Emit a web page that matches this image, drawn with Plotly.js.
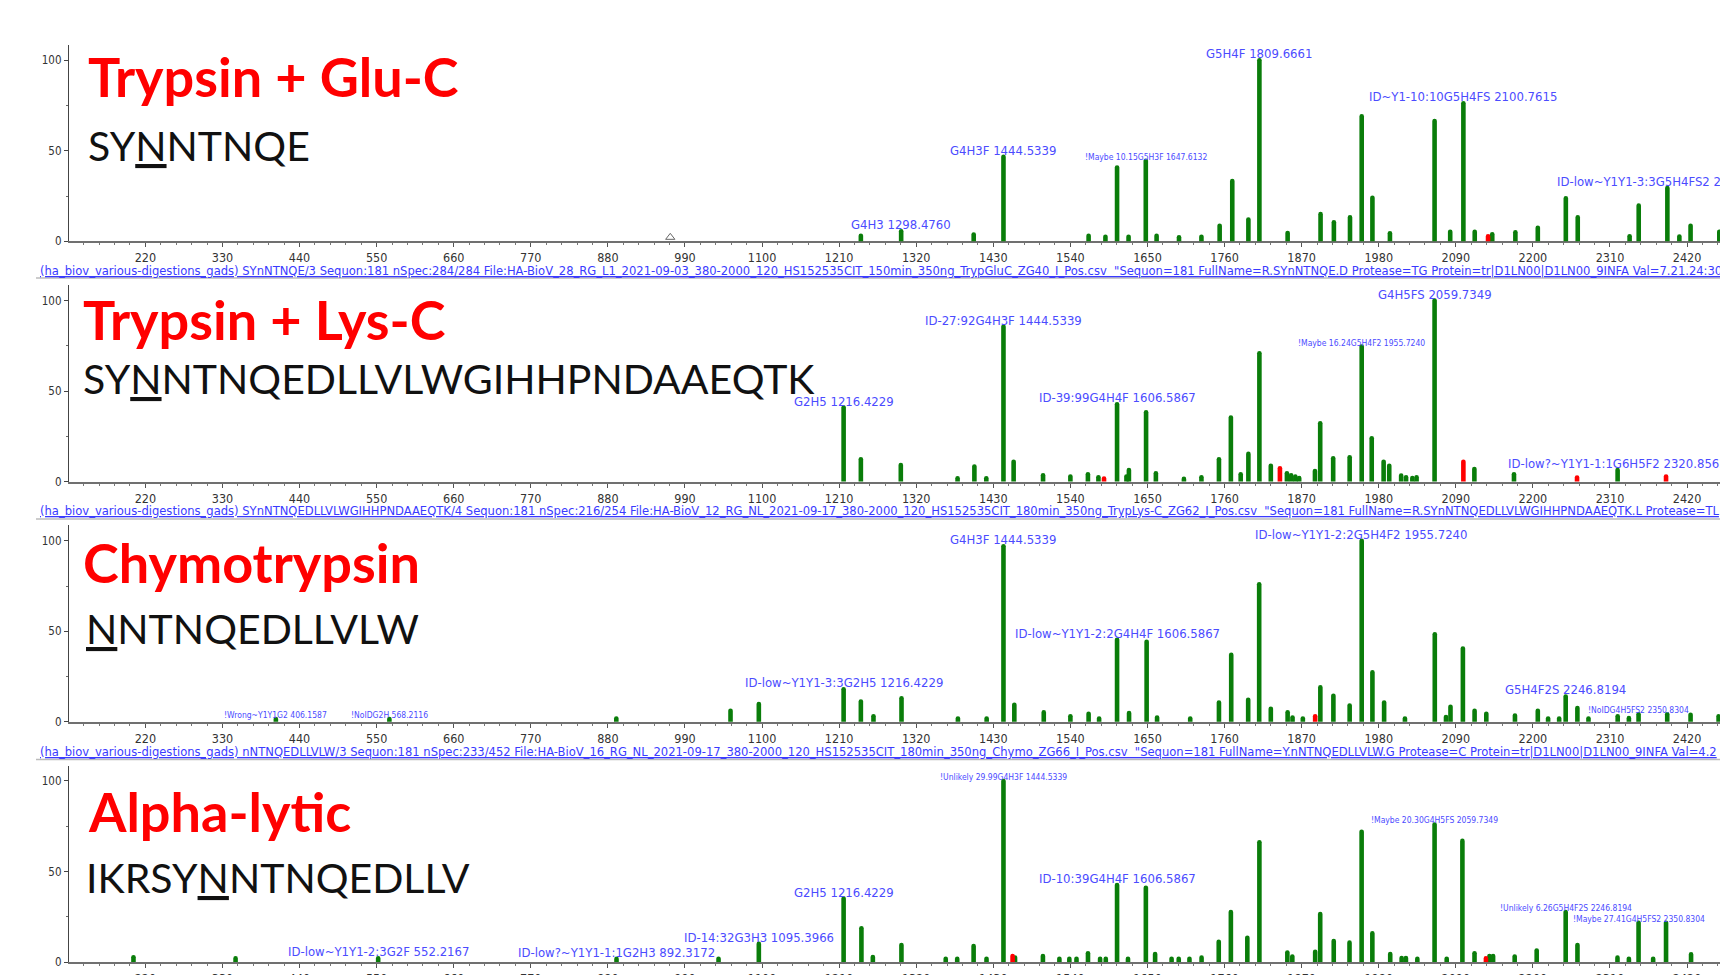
<!DOCTYPE html>
<html>
<head>
<meta charset="utf-8">
<script src="https://cdn.plot.ly/plotly-3.0.1.min.js"></script>
<style>
html,body{margin:0;padding:0;background:#fff;}
#chart{width:1720px;height:975px;}
.scatterlayer path.js-line{stroke-linecap:round;}
</style>
</head>
<body>
<div id="chart"></div>
<script>
// ---------------- DATA ----------------
const enzymes = ['Trypsin + Glu-C', 'Trypsin + Lys-C', 'Chymotrypsin', 'Alpha-lytic'];
const sequences = ['SYNNTNQE', 'SYNNTNQEDLLVLWGIHHPNDAAEQTK', 'NNTNQEDLLVLW', 'IKRSYNNTNQEDLLV'];
const siteIndex = [2, 2, 0, 5];

const infoLines = [
  '(ha_biov_various-digestions_gads) SYnNTNQE/3 Sequon:181 nSpec:284/284 File:HA-BioV_28_RG_L1_2021-09-03_380-2000_120_HS152535CIT_150min_350ng_TrypGluC_ZG40_I_Pos.csv  "Sequon=181 FullName=R.SYnNTNQE.D Protease=TG Protein=tr|D1LN00|D1LN00_9INFA Val=7.21.24:30',
  '(ha_biov_various-digestions_gads) SYnNTNQEDLLVLWGIHHPNDAAEQTK/4 Sequon:181 nSpec:216/254 File:HA-BioV_12_RG_NL_2021-09-17_380-2000_120_HS152535CIT_180min_350ng_TrypLys-C_ZG62_I_Pos.csv  "Sequon=181 FullName=R.SYnNTNQEDLLVLWGIHHPNDAAEQTK.L Protease=TL',
  '(ha_biov_various-digestions_gads) nNTNQEDLLVLW/3 Sequon:181 nSpec:233/452 File:HA-BioV_16_RG_NL_2021-09-17_380-2000_120_HS152535CIT_180min_350ng_Chymo_ZG66_I_Pos.csv  "Sequon=181 FullName=Y.nNTNQEDLLVLW.G Protease=C Protein=tr|D1LN00|D1LN00_9INFA Val=4.2'
];

// Panel 1: Trypsin + Glu-C
const p1GreenMz  = [1241, 1298.5, 1402, 1444.5, 1566, 1590, 1606.6, 1623, 1647.6, 1663, 1695, 1727, 1753, 1771, 1794, 1809.7, 1850, 1897, 1916, 1939, 1955.7, 1971, 1996, 2059.7, 2082, 2100.8, 2117, 2142, 2175, 2207, 2247, 2264, 2338, 2351, 2391.9, 2409, 2425, 2466];
const p1GreenInt = [3, 5.5, 3.7, 46.7, 3, 2.5, 40.8, 2.5, 44.5, 3, 2.2, 2.5, 8.6, 33.3, 12, 100, 4.6, 15, 10.5, 13.2, 69, 24, 4.4, 66.5, 5.3, 76.3, 5.3, 3.9, 5, 7.5, 23.7, 13.2, 2.8, 19.7, 29.4, 2.6, 8.6, 5.3];
const p1RedMz  = [2136];
const p1RedInt = [2.7];
const p1Flags  = [969];
const p1Labels = ['G4H3 1298.4760', 'G4H3F 1444.5339', '!Maybe 10.15G5H3F 1647.6132', 'G5H4F 1809.6661', 'ID~Y1-10:10G5H4FS 2100.7615', 'ID-low~Y1Y1-3:3G5H4FS2 2391.8569'];

// Panel 2: Trypsin + Lys-C
const p2GreenMz  = [1216.4, 1241, 1298, 1379, 1403, 1420, 1444.5, 1459, 1501, 1540, 1565, 1580, 1606.6, 1620, 1623.5, 1648, 1662, 1702, 1727, 1752, 1769, 1783, 1794, 1809.7, 1826, 1849, 1855, 1861, 1866.5, 1889, 1896.5, 1915, 1938.5, 1955.7, 1970, 1987, 1995, 2012, 2019, 2028, 2034, 2059.7, 2116.5, 2173, 2320.9];
const p2GreenInt = [40.9, 12.3, 9.2, 1.8, 8.3, 1.8, 85.6, 11, 3.5, 2.8, 4, 2.4, 42.7, 2.8, 6.4, 38.3, 4.6, 1.5, 2.4, 12.3, 35.4, 4, 15.3, 70.9, 8.8, 4.6, 3.5, 2.8, 2, 5.9, 32.2, 12.9, 13.4, 74.6, 23.9, 11, 8.8, 3.3, 2.4, 2, 2.4, 100, 7, 4, 6.4];
const p2RedMz  = [1588, 1839, 2100.8, 2263, 2390];
const p2RedInt = [1.7, 7.4, 11, 2.2, 2.8];
const p2Labels = ['G2H5 1216.4229', 'ID-27:92G4H3F 1444.5339', 'ID-39:99G4H4F 1606.5867', '!Maybe 16.24G5H4F2 1955.7240', 'G4H5FS 2059.7349', 'ID-low?~Y1Y1-1:1G6H5F2 2320.8562'];

// Panel 3: Chymotrypsin
const p3GreenMz  = [406.2, 568.2, 892, 1055, 1095.4, 1216.4, 1241, 1259, 1299, 1379.5, 1420.5, 1444.5, 1460, 1502, 1540, 1566, 1581, 1606.6, 1623.7, 1648.8, 1663.7, 1711, 1752, 1769.5, 1793.7, 1809.4, 1826, 1850, 1857, 1871.7, 1896.7, 1915.3, 1938.5, 1955.7, 1971, 1987.7, 2017.4, 2060, 2076, 2082.4, 2100.1, 2116.8, 2133.5, 2174.4, 2207, 2221.7, 2237.5, 2246.8, 2263.5, 2279.3, 2321, 2337, 2350.8, 2391.7, 2425, 2465];
const p3GreenInt = [1.5, 1.5, 1.8, 6.1, 9.8, 18, 11.2, 3, 13, 1.8, 1.8, 97, 9.4, 5.2, 3, 4.4, 1.8, 45.3, 4.8, 44.2, 2.4, 1.8, 10.7, 37, 12.2, 76, 7.2, 5.3, 2.4, 1.8, 19, 14.4, 9, 100, 27.3, 10.7, 1.8, 48.4, 2.6, 8.3, 40.5, 6.1, 4.4, 3.5, 6.1, 1.8, 1.8, 14, 7.6, 1.8, 3, 2, 4.2, 4.2, 3.9, 3];
const p3RedMz  = [1889.3];
const p3RedInt = [3];
const p3Labels = ['!Wrong~Y1Y1G2 406.1587', '!NoIDG2H 568.2116', 'ID-low~Y1Y1-3:3G2H5 1216.4229', 'G4H3F 1444.5339', 'ID-low~Y1Y1-2:2G4H4F 1606.5867', 'ID-low~Y1Y1-2:2G5H4F2 1955.7240', 'G5H4F2S 2246.8194', '!NoIDG4H5FS2 2350.8304'];

// Panel 4: Alpha-lytic
const p4GreenMz  = [203, 348.7, 552.2, 892.3, 1037.9, 1095.4, 1216.4, 1241.8, 1258.1, 1298.9, 1362.1, 1378.5, 1401.9, 1420.3, 1444.5, 1461, 1500.8, 1524.3, 1538.5, 1548.7, 1565.1, 1582.4, 1590.5, 1606.6, 1622.2, 1647.7, 1660.9, 1684.4, 1694.6, 1709.9, 1727.2, 1751.7, 1769, 1792.5, 1809.7, 1849.6, 1856.7, 1889.3, 1896.5, 1915.8, 1938.3, 1955.6, 1970.9, 1996.4, 2012.7, 2018.8, 2035.1, 2059.7, 2077, 2099.4, 2116.7, 2138, 2143.2, 2174, 2205.4, 2246.8, 2263.6, 2320.7, 2337, 2350.8, 2371.6, 2390, 2425.7];
const p4GreenInt = [2.6, 2, 2, 1.7, 1.8, 10, 35, 18.6, 2.8, 9.4, 1.8, 1.8, 8.8, 1.8, 100, 2.4, 3.3, 1.8, 1.8, 1.8, 4.8, 1.8, 1.8, 42.5, 1.8, 41, 4.4, 1.8, 1.8, 1.8, 2.4, 11.2, 27.6, 13.4, 66.1, 5.2, 3, 5.7, 26.5, 11.6, 10.7, 72, 15.8, 4.4, 2.2, 2.2, 1.8, 76, 1.8, 66.9, 4.8, 3.3, 3.3, 3, 6.3, 27.6, 9.4, 2.4, 1.8, 21.7, 1.8, 21.7, 4.2];
const p4RedMz  = [1457.5, 2133];
const p4RedInt = [3.3, 2];
const p4Labels = ['ID-low~Y1Y1-2:3G2F 552.2167', 'ID-low?~Y1Y1-1:1G2H3 892.3172', 'ID-14:32G3H3 1095.3966', 'G2H5 1216.4229', '!Unlikely 29.99G4H3F 1444.5339', 'ID-10:39G4H4F 1606.5867', '!Maybe 20.30G4H5FS 2059.7349', '!Unlikely 6.26G5H4F2S 2246.8194', '!Maybe 27.41G4H5FS2 2350.8304'];

const yTickVals = [0, 50, 100];

// ---------------- BUILD ----------------
const W = 1720, H = 975;
const GREEN = '#0a7d0a', RED = '#ff0000', BLUE = '#4b4bff', INFO_BLUE = '#3a3aff';
const NARROW = "'Liberation Sans Narrow', 'Arial Narrow', 'DejaVu Sans Condensed', sans-serif";
const zeroPx = [241.3, 481.6, 721.8, 962];
const pxPer = 1.81;
const yMax = 108.5;
const px = v => v / W;
const py = v => 1 - v / H;

const panels = [
  {g: [p1GreenMz, p1GreenInt], r: [p1RedMz, p1RedInt], labels: p1Labels},
  {g: [p2GreenMz, p2GreenInt], r: [p2RedMz, p2RedInt], labels: p2Labels},
  {g: [p3GreenMz, p3GreenInt], r: [p3RedMz, p3RedInt], labels: p3Labels},
  {g: [p4GreenMz, p4GreenInt], r: [p4RedMz, p4RedInt], labels: p4Labels}
];

function sticks(mz, inten) {
  const x = [], y = [];
  mz.forEach((m, i) => { x.push(m, m, null); y.push(0, inten[i], null); });
  return {x, y};
}

const traces = [];
const annotations = [];
const shapes = [];
const layout = {
  width: W, height: H, margin: {l: 0, r: 0, t: 0, b: 0},
  paper_bgcolor: '#fff', plot_bgcolor: 'rgba(0,0,0,0)',
  showlegend: false, annotations, shapes
};

panels.forEach((p, k) => {
  const n = k === 0 ? '' : String(k + 1);
  const xa = 'x' + n, ya = 'y' + n;
  const z = zeroPx[k];
  const top = z - yMax * pxPer;
  layout['xaxis' + n] = {
    domain: [px(69), 1], range: [111, 2467], anchor: ya,
    showgrid: false, zeroline: false, showline: true, linecolor: '#707070', linewidth: 2,
    layer: 'below traces',
    ticks: 'outside', ticklen: 4, tickcolor: '#555', tickwidth: 1,
    tick0: 0, dtick: 110,
    minor: {dtick: 22, ticks: 'outside', ticklen: 2, tickcolor: '#777'},
    tickfont: {family: NARROW, size: 12.5, color: '#333'}, fixedrange: true
  };
  layout['yaxis' + n] = {
    domain: [py(z), py(top)], range: [0, yMax], anchor: xa,
    showgrid: false, zeroline: false, showline: true, linecolor: '#444', linewidth: 1.2,
    ticks: 'outside', ticklen: 4, tickcolor: '#444',
    tickvals: yTickVals,
    minor: {tickvals: [25, 75], ticks: 'outside', ticklen: 2, tickcolor: '#666'},
    tickfont: {family: NARROW, size: 11.5, color: '#333'}, fixedrange: true
  };
  const g = sticks(p.g[0], p.g[1]);
  traces.push({type: 'scatter', mode: 'lines', x: g.x, y: g.y, xaxis: xa, yaxis: ya,
    line: {color: GREEN, width: 4.6}, cliponaxis: false, hoverinfo: 'skip'});
  const r = sticks(p.r[0], p.r[1]);
  traces.push({type: 'scatter', mode: 'lines', x: r.x, y: r.y, xaxis: xa, yaxis: ya,
    line: {color: RED, width: 4.6}, cliponaxis: false, hoverinfo: 'skip'});

  // peak labels
  const allMz = p.g[0].concat(p.r[0]);
  const allInt = p.g[1].concat(p.r[1]);
  p.labels.forEach(t => {
    const parts = t.split(' ');
    const m = parseFloat(parts[parts.length - 1]);
    let best = 0, bd = 1e9;
    allMz.forEach((v, i) => { const d = Math.abs(v - m); if (d < bd) { bd = d; best = i; } });
    const small = t.charAt(0) === '!';
    annotations.push({
      xref: xa, yref: ya, x: m, y: allInt[best], text: t, showarrow: false,
      xanchor: 'center', yanchor: 'bottom', yshift: -3,
      font: {family: NARROW, size: small ? 8.5 : 13, color: BLUE}
    });
  });
});

// open triangle marker on panel 1 axis
traces.push({type: 'scatter', mode: 'markers', x: p1Flags, y: p1Flags.map(() => 2.2), xaxis: 'x', yaxis: 'y',
  marker: {symbol: 'triangle-up-open', size: 8, color: '#666', line: {width: 1}}, cliponaxis: false, hoverinfo: 'skip'});

// enzyme titles and sequences
const titleX = [86, 81, 81, 86];
const titleY = [76.8, 319.2, 562.8, 811.8];
const seqX = [86, 81, 84, 84];
const seqY = [145.9, 378.5, 628.6, 877.6];
enzymes.forEach((e, k) => {
  annotations.push({xref: 'paper', yref: 'paper', x: px(titleX[k]), y: py(titleY[k]),
    xanchor: 'left', yanchor: 'middle', showarrow: false, text: '<b>' + e + '</b>',
    font: {family: 'Lato', size: 54, color: RED}});
  const s = sequences[k], i = siteIndex[k];
  const txt = s.slice(0, i) + '<span style="text-decoration:underline">' + s.charAt(i) + '</span>' + s.slice(i + 1);
  annotations.push({xref: 'paper', yref: 'paper', x: px(seqX[k]), y: py(seqY[k]),
    xanchor: 'left', yanchor: 'middle', showarrow: false, text: txt,
    font: {family: 'Lato', size: 41, color: '#111'}});
});

// info lines and separators
const infoY = [270, 511, 751.5];
infoLines.forEach((t, k) => {
  annotations.push({xref: 'paper', yref: 'paper', x: px(38), y: py(infoY[k]),
    xanchor: 'left', yanchor: 'middle', showarrow: false,
    text: '<span style="text-decoration:underline">' + t + '</span>',
    font: {family: NARROW, size: 12.85, color: INFO_BLUE}});
  shapes.push({type: 'line', xref: 'paper', yref: 'paper', x0: px(36), x1: 1,
    y0: py(infoY[k] + 8), y1: py(infoY[k] + 8), line: {color: '#bbb', width: 1.5}});
});

Plotly.newPlot('chart', traces, layout, {staticPlot: true});
</script>
</body>
</html>
